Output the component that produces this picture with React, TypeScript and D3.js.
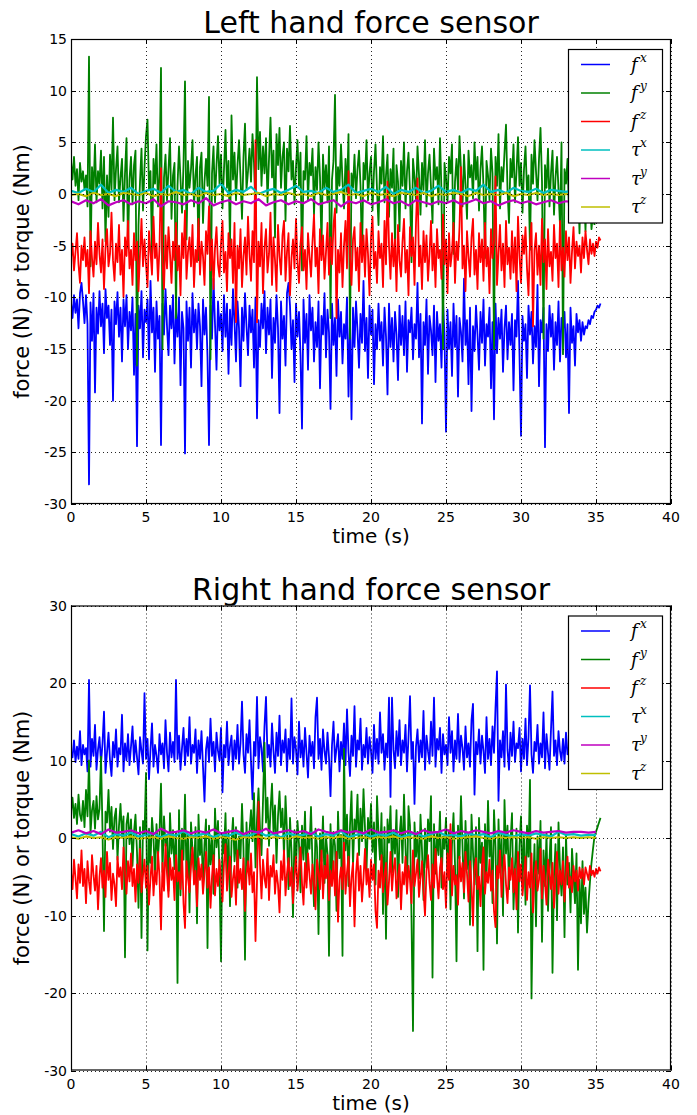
import React from 'react';
import * as d3 from 'd3';

// ---------- data ----------
const FORCE_DT = 0.1; // s between force samples
const TORQUE_DT = 0.5; // s between torque samples

const LEFT_FX = [
  -10.5,-12,-9.8,-11.5,-10.2,-13,-9.6,-8.6,-10.4,-12.5,
  -9.8,-12.6,-28.1,-10.5,-14.2,-9.6,-19.2,-11,-13.5,-9.4,
  -12.8,-10.6,-15.4,-9.2,-12,-10.8,-14.6,-11.2,-20,-10.4,
  -12.6,-9.5,-13.8,-11,-16.2,-10.2,-12.8,-9.8,-15,-11.4,
  -13.2,-10,-17.5,-11.6,-24.4,-10.8,-13,-9.4,-15.8,-11.2,
  -12.4,-10.2,-16,-8.4,-13.4,-11,-17.2,-10.4,-14,-11.8,
  -24.3,-10.6,-13.6,-9.2,-12.8,-15.6,-10.8,-13,-9.8,-16.4,
  -11.2,-13.8,-10,-18.5,-11.4,-13,-25.1,-10.4,-14.2,-11,
  -16.8,-9.6,-13.4,-11.2,-15,-10.6,-12.8,-18.6,-10.2,-13.6,
  -11,-15.8,-24.3,-10.8,-14,-8.2,-12.6,-17,-10.4,-13.2,
  -11.6,-15.2,-9.8,-13.8,-10.6,-17.4,-11.2,-14.6,-9.2,-12.4,
  -16.2,-10.4,-13,-18.6,-11,-14.2,-9.6,-12.8,-15.6,-10.8,
  -13.4,-11.2,-16.8,-10,-21.7,-12.2,-14.8,-10.6,-13,-9.4,
  -15.4,-11,-13.6,-10.2,-17.8,-12,-14.4,-9.8,-13,-21.2,
  -10.4,-14,-11.8,-16.6,-9.6,-8.6,-10.8,-15,-12.2,-18.2,
  -10.6,-13.8,-11.4,-15.6,-22.7,-10.2,-14.4,-11.6,-17,-9.8,
  -13.2,-11,-16.2,-12.4,-14.8,-10.4,-18.8,-11.8,-13.6,-9.6,
  -15.8,-11.2,-13.4,-20.8,-10.6,-14.6,-12,-17.6,-10.2,-13.8,
  -11.4,-16.4,-12.6,-14,-10,-19.6,-12.2,-21.8,-11,-14.8,
  -10.4,-13.2,-16.8,-11.6,-14.4,-8.4,-15.2,-12,-17.8,-10.8,
  -13.6,-11.2,-18.4,-12.6,-15,-10.6,-14.2,-12.4,-16.6,-11,
  -13.8,-19.4,-10.6,-14.8,-12,-16.2,-11.4,-13.6,-18,-10.8,
  -14.6,-11.8,-15.6,-10.4,-17.2,-12.2,-13.4,-11,-16,-12.6,
  -14,-8.6,-15.8,-11.6,-22.2,-12.4,-14.6,-10.2,-17.4,-11.8,
  -13.2,-15.6,-10.8,-18.2,-11.4,-14.2,-12.6,-16.8,-10.4,-13.6,
  -23,-11.2,-15,-12.4,-17.6,-10.6,-14.8,-11.8,-19.6,-12,
  -13.4,-16.2,-8.2,-14.6,-12.2,-18.4,-11,-21,-12.8,-15.2,
  -10.8,-13.6,-17,-11.4,-14.4,-10.2,-16.6,-12.6,-13.8,-11,
  -18.8,-12.4,-21.8,-10.6,-15.4,-12,-14,-11.2,-17.2,-13,
  -10.8,-16,-12.4,-14.6,-11.6,-19,-12.2,-13.8,-8.4,-15.6,
  -23.4,-11.8,-14.2,-12.6,-17.8,-10.8,-13.6,-11.4,-16.4,-12.8,
  -14.8,-8.8,-18.6,-12.2,-13.4,-11,-24.5,-12.6,-15.2,-10.8,
  -13.8,-11.6,-17,-12.4,-14.6,-10.4,-16.2,-12,-13.2,-11.4,
  -15.8,-12.6,-21.2,-11,-14.4,-12.8,-16.6,-11.6,-13.4,-12.2,
  -14.2,-12.4,-13.6,-12.8,-13,-12.2,-12.6,-11.8,-12,-11.4,
  -11.2,-10.8,-11,-10.6,
];

const LEFT_FY = [
  3.2,1.4,3.6,0.8,2.4,-0.6,3,1.2,2.2,0.4,
  1.8,-1.2,13.3,-7,2.6,0.2,4.8,-0.8,2.2,1,
  4.2,-1.4,3.6,-4.6,1.8,-2.2,3.8,0.4,7.4,-0.6,
  2.4,4.6,-0.8,1.6,3.4,-2.6,2,5.4,-5.2,1.4,
  3.6,-1,2.8,4.2,-16.6,-3,1.2,4.4,-1.6,2.6,
  5.6,7.2,0.4,2.2,-6,3.4,1,4.8,-1.2,2,
  12.2,-15,1.6,3.8,-0.6,2.4,5.4,-2.4,1.8,3,
  -12,0.8,4.6,1.4,-1.8,2.8,10.9,-4.4,3.2,0.6,
  2.4,5.2,-1.2,1.8,3.6,-6.4,2.6,4,-2.8,1.2,
  3.4,0.8,9.4,-16,2,4.6,-0.8,2.8,5.6,1,
  3.8,-1.4,2.4,6.2,0.6,3.2,-5,7.6,1.4,4,
  -0.6,2.8,5.2,1.6,-2.4,3.6,6.8,0.4,2.2,4.4,
  1.2,5.8,3,-1.6,11.3,2.4,6,0.8,4.6,2,
  5.4,-0.8,3.4,7.4,1.6,4.2,-4.2,5.8,2.8,6.4,
  0.6,3.6,5,-2.6,4.4,2.2,6.6,1.4,3.2,-1,
  2.6,5.2,0.8,4,-7.4,2.2,1.4,5.6,-0.6,3,
  1.8,4.4,-2,2.6,0.4,5,1.6,-5.2,3.8,0.6,
  2.8,-0.8,4.6,-12,1.4,3.2,9.6,-1.8,2.6,0.8,
  4.8,1.2,-1.4,3.4,0.2,5.8,-14,2,0.6,3.8,
  -0.4,2.4,4.2,0.8,-6.2,3,1.4,5.2,-0.6,2,
  3.6,-1.6,2.2,4.8,0.4,-3,2.6,1,5.6,-0.8,
  1.8,3.8,-2.2,2.4,0.6,4.4,-5,2.8,1.2,-3.6,
  3.2,0.8,5,-1.4,2.2,4,0.2,-6.6,3.4,1.6,
  -0.6,4.6,1.8,-2,3,0.4,5.2,-1.2,2,3.8,
  0.6,-2.8,4.4,1.4,2.6,-1,5.4,0.2,-15,3,
  1.6,-0.8,3.6,2,4.8,-5.8,1.2,3.4,0.4,5.6,
  2.2,-1.2,3.8,0.8,-2.4,4.2,1.6,2.8,-0.4,5,
  1.4,3.6,-1.6,2.4,4.6,0.6,-6.2,3.2,1.8,-0.6,
  4.4,2,-15,3.6,0.8,5.8,-1.4,2.6,1.2,4,
  6.7,0.4,-2.8,3.4,1.6,4.8,-0.8,2.2,5.5,0.8,
  3,-1.8,2.4,4.6,0.2,1.8,-5.4,3.8,1,5.2,
  2.2,-0.6,3.4,6.4,1.2,-14,2.8,0.6,4.4,-1.2,
  2,4.2,-2,1.6,3.6,0.4,-3,5,-15.5,2.4,
  1,3.4,-1.6,2.2,4.6,0.8,-2.6,3,1.4,-3.8,
  2.6,-1.2,0.4,-3.6,1.8,-2,-0.6,-3.4,-1.8,-3,
];

const LEFT_FZ = [
  -6.2,-4.8,-7.4,-5.6,-3.8,-6.8,-8.6,-5,-6.4,-4.2,
  -7,-5.4,-9.6,-3.6,-6.2,-8,-4.6,-6.8,-2.8,-5.8,
  -7.6,-4.4,-9.2,-5.2,-3.4,-7,-5.8,-1.8,-6.4,-8.4,
  -4.8,-6.6,-3,-7.8,-5.4,-10,-4.2,-6,-2.6,-7.2,
  -5.4,-8.8,-3.8,-6.4,-4.6,-9.4,-5.8,-2.4,-7,-4.4,
  -6.8,-9,-3.6,-5.6,-7.8,-2.2,-6.2,-4.8,-8.4,-5.2,
  2.5,-6.6,-9.2,-4,-7.2,-3.2,-5.8,-8.6,-4.6,-6.4,
  -2.8,-7.4,-5,-9.8,-3.8,-6.2,-1.6,-8.2,-5.6,-4.2,
  -7,-3,-9,-5.4,-6.6,-2.4,-7.8,-4.6,-6,-8.8,
  -3.6,-5.8,-1.2,-7.4,-4.4,-9.2,-5.2,-3.2,-6.8,-8,
  -4.8,-2.6,-7.6,-5.6,-9.4,-3.8,-6.2,-4.4,-8.6,-2.8,
  -12.4,-5,-7.2,-3.4,-9,-6,-4.2,-7.8,-2.2,-5.8,
  -8.4,-3.6,-6.6,5.2,-12.4,-4.6,-7,-2.8,-9.6,-5.2,
  -3.4,-7.6,-5.8,-1.8,-8.8,-4.2,-6.4,-9.4,-3,-6,
  -7.8,-4,-2.6,-8.4,-5.6,-3.8,-9.8,-6.2,-4.4,-7.2,
  -2.4,-6.6,-8.6,-4.8,-3.2,-7.4,-5.4,-9.2,-3.8,-6,
  -8,-4.6,-2,-7,-5.2,-9.6,-3.4,-6.4,-4,-8.2,
  -5.6,-2.8,-7.8,-4.2,-6.8,-3,-1.4,-12,-5.4,-7.6,
  -3.8,-9,-5,-2.6,-7.2,2.2,-6,-8.8,-4.4,-3.2,
  -7.4,-5.2,-9.4,-2.8,-6.6,-4,-8,-3.4,-5.8,-9.8,
  -4.2,-2.2,-7.2,-5.6,-8.6,-3.6,-6.2,-4.8,-9,-2.6,
  -6.8,1.2,-5,-8.2,-3.8,-7,-4.4,-9.4,-3,-6.4,
  -8,-4.6,-2.4,-7.6,-5.4,-9.8,-3.2,-6,-4.2,-8.8,
  -2.8,1.5,-7,-5,-9.2,-3.6,-6.6,-4,-8.4,-5.8,
  -2.6,-7.4,-4.8,-9,-3.4,-6.2,-5.4,-8.2,-2,-6.8,
  -4.4,-9.6,-3.8,-7,-5.6,-2.8,-8.6,-4.6,-6.4,-3.2,
  2.6,-7.2,-5,-9.4,-3.6,-6,-8,-4.2,-2.4,-7.8,
  -5.4,-9.2,-3.8,-6.6,-4.4,-8.4,-2.8,-7,-5.2,-9.6,
  -3.4,-6.2,-4.6,1.7,-8.8,-5.8,-3,-7.4,-4.8,-9,
  -2.6,-6.8,-5.2,-8.2,-3.6,-7.6,-4.2,-9.4,-2.2,-6,
  -8.6,-4,-5.8,-3.2,-7.2,-9.8,-4.6,-2.8,-12.8,-5.4,
  -3.8,-7.8,-5,-8.8,-2.4,-6.6,-4.4,-9.2,-3.4,-7,
  -5.6,-8.4,-3,-6.2,-4.8,-9,-2.6,-7.4,-5.2,-8,
  -3.6,-6.4,-4.2,-8.6,-5.6,-3.2,-7.2,-4.6,-6,-5,
  -7.6,-4.2,-6.2,-3.6,-5.4,-6.8,-4.4,-5.8,-4.8,-6,
  -4.6,-5.2,-4.2,-4.5,
];

const LEFT_TX = [
  0.3,0.1,0.5,0.2,0.9,0.1,0.4,0.2,0.6,0.0,
  0.3,0.5,0.1,0.8,0.2,0.4,0.0,0.6,0.2,0.3,
  1.0,0.1,0.4,0.2,0.7,0.0,0.3,0.5,0.1,0.4,
  0.8,0.2,0.3,0.1,0.6,0.2,0.4,0.9,0.1,0.3,
  0.5,0.2,0.7,0.0,0.4,0.2,0.6,0.1,0.3,0.8,
  0.2,0.4,0.1,0.5,0.3,0.9,0.2,0.4,0.1,0.6,
  0.3,0.2,0.5,0.1,0.4,0.3,0.2,0.4,0.3,0.2,0.3,
];
const LEFT_TY = [
  -0.7,-1.0,-0.6,-0.9,-0.5,-1.1,-0.8,-0.6,-1.0,-0.7,
  -0.9,-0.5,-1.2,-0.7,-0.8,-1.0,-0.6,-0.9,-0.4,-1.1,
  -0.8,-0.6,-1.0,-0.7,-0.9,-0.5,-1.1,-0.8,-0.6,-1.0,
  -0.7,-0.9,-0.5,-1.0,-0.8,-0.6,-1.2,-0.7,-0.9,-0.6,
  -1.0,-0.8,-0.5,-0.9,-0.7,-1.1,-0.6,-0.8,-1.0,-0.7,
  -0.9,-0.6,-1.0,-0.8,-0.5,-0.9,-0.7,-1.1,-0.8,-0.6,
  -0.9,-0.7,-1.0,-0.8,-0.6,-0.9,-0.7,-0.8,-0.9,-0.7,-0.8,
];
const LEFT_TZ = [
  -0.1,0.0,-0.2,0.1,-0.1,0.0,-0.2,0.1,0.0,-0.1,
  0.1,-0.2,0.0,-0.1,0.2,-0.1,0.0,-0.2,0.1,-0.1,
  0.0,-0.2,0.1,-0.1,0.0,0.1,-0.2,0.0,-0.1,0.1,
  -0.1,0.0,-0.2,0.1,-0.1,0.0,0.2,-0.1,0.0,-0.2,
  0.1,-0.1,0.0,-0.2,0.1,0.0,-0.1,0.1,-0.2,0.0,
  -0.1,0.1,0.0,-0.2,0.1,-0.1,0.0,-0.1,0.1,-0.2,
  0.0,-0.1,0.1,-0.1,0.0,-0.1,0.0,-0.1,0.0,-0.1,0.0,
];

const RIGHT_FX = [
  11.2,10.4,12.6,9.8,11.8,10.2,13.8,9.4,12,10.8,
  11.6,8.6,20.4,9.2,12.8,10.6,14.6,8.8,11.4,13,
  9.6,12.2,16.3,8.4,11,13.6,10,8,12.4,10.4,
  14,9.2,11.6,10.8,15.9,8.6,12.2,10,13.4,9.4,
  11.8,14.4,9.8,12.6,10.4,8.2,13,11.2,9.6,18.7,
  10.2,12.8,7.6,11.4,14.8,9.2,12,10.6,8.4,13.4,
  10.8,12.2,9,15.2,11,8.6,13.6,10.4,12.4,9.8,
  20.4,10.2,13.2,8.8,11.6,14.2,9.4,12.8,10.6,15.6,
  9.6,12,11,14,8.4,12.6,10.2,13.8,9.2,4.7,
  11.4,13,9.8,15.4,10.6,12.4,8.6,13.6,11.2,10,
  14.2,5.9,12,10.4,15,9.4,11.8,13.2,8.8,12.6,
  10.2,14.6,9.6,12.2,17.6,10.8,8.4,13.4,11,15.2,
  9.8,5,12.4,10.6,18.2,9,13,11.6,8.6,14.4,
  18.2,10.4,12,9.2,14.8,11.2,8.4,13.6,10.6,15.8,
  9.4,12.6,11,14,8.6,12.8,10.2,18,9.6,13,
  11.4,8.2,15,10.4,12.6,9.2,14.2,11,7.8,13.2,
  10.6,12.4,9,15.6,18.1,10.2,12.8,8.8,14,11.2,
  9.6,13.6,10.4,5.4,12,15,9.8,11.6,13.4,8.6,
  12.4,10.2,14.8,9.4,16.6,11,8,13.2,10.6,17,
  9.2,12.6,11.4,15.4,8.8,12,10.4,14.2,9.6,13,
  11.2,8.4,14.6,10.2,12.8,9.6,16.2,11,13.4,8.8,
  12.2,10.4,18.1,5.3,18.1,11.4,9,13.8,10.6,15.2,
  9.4,12.6,11,14.6,8.6,13,18.3,10.2,12.4,4.4,
  11.8,14,9.8,12.6,10.4,16.4,8.8,13.2,11.2,9.6,
  15,10.6,18.1,9.2,12.8,11.4,14.2,8.4,13.4,10.8,
  12,9.4,15.6,11,13.8,8.6,12.6,10.2,16,9.8,
  13.2,11.6,8.8,14.4,10.4,12.2,9.2,15.2,17.3,5.6,
  12.4,10.8,14,9.6,13.2,11.2,8.4,15.6,10.2,12.8,
  9.4,14.4,11,16.8,21.5,4.8,12.6,10.4,13.8,9.2,
  19.8,11.4,8.8,13.6,10.6,15,9.8,12.2,11.6,14.2,
  8.6,12.8,10.2,15.4,9.4,13,19.7,10.8,8.4,12.4,
  11.2,14.6,9.6,12.2,10.4,16.2,9,13.4,11,8.8,
  14,18.9,10.6,12.6,9.4,13.8,11.2,10,12.8,9.6,
  13.6,10.8,11.8,9.8,12.4,10.4,11.6,9.2,12.2,10.6,
  11.4,9.8,12,10.6,11,10.2,11.6,10.8,10.4,11.2,
  10.6,11,10.4,10.8,
];

const RIGHT_FY = [
  3.4,5.2,2.6,4.4,1.8,5.6,3,2.2,4.8,1.4,
  6.2,2.8,10,0.6,3.6,4.8,1.2,5.4,2.4,3.8,
  10.5,1,-12,3.4,2,6.2,0.8,4,-1.4,2.6,
  3.8,-2.8,1.6,4.4,0.2,2.8,-15.4,1.8,3.2,-0.8,
  2.4,-3.6,0.8,3,-1.8,-9,1.4,-12.9,2.2,0.4,
  8.4,-14.5,1.2,-3.2,2.6,0,-5.2,1.8,-2.4,0.6,
  7,-4.4,2.8,-1,0.2,-6.8,3.2,-2,1,-4,
  0.8,-18.7,3.6,-7.4,1.2,-2.8,5.6,-5,0.4,-9.6,
  2,-1.6,-4.8,1.4,-11,3,-2.2,0.2,-6,-0.8,
  2.4,-14.2,1.6,-3.4,0,-7.2,3.8,-1.2,2.2,-4.6,
  -15.9,0.4,-2,3.2,-5.6,1,-8.8,-0.6,2.6,-3,
  1.4,-6.4,0.2,-2.6,4.4,-1.4,-15.7,2,-4.2,0.8,
  3.6,-0.4,5.8,-3.8,2.4,6.4,1.2,-2.2,4.8,12.3,
  2,5.2,-1,3.6,7,0.6,4.2,-3.2,2.8,6,
  1.4,3.8,-2.4,5.4,0.8,-6.6,2.6,-1.8,-10.2,1,
  -4,2.2,-0.8,-7,1.6,-2.8,3.4,-5.4,0.4,-1.4,
  4,-3.6,-8.8,1.2,-1.2,-12.4,0.6,-3,2.8,-5.8,
  0.2,-2,-15.2,1.8,-4.6,0.8,-1,-9.4,3.4,-2.6,
  0.4,-15.2,11.5,-1.6,3,-6.2,1.6,6,-3.6,2.4,
  0.8,5.6,-2.2,3.8,-0.4,6.3,1.2,-4.2,2.6,0,
  4.4,-1.8,2,-6,5.4,0.6,-2.8,3.2,-9.8,1.4,
  -13,2.4,-0.6,4.1,-4.4,1,-2,3.6,-7.6,0.2,
  2.8,-3.2,5.6,-1.2,-6.8,4.1,1.6,-10.4,-24.9,2,
  -2.4,0.8,-5.2,3,-1.6,-8,1.2,-3.8,2.4,-0.4,
  5.4,-18,1.8,-4.6,0.6,-2.2,3.4,-6.4,0.2,-1.4,
  2.6,-5,1,-9.2,-0.8,3.2,-3.4,-15.9,1.6,-2.6,
  5.4,-1,-7.8,2.2,-4,0.4,-11.2,3,-1.8,-6,
  1.4,-14.6,2.6,-3.2,-0.6,-17,1.8,-5.6,4.8,-2.4,
  0.2,-8.4,3.6,-1.2,-13.6,2.4,-4.4,0.6,-10,4.9,
  -2,1.6,-6.6,-0.4,3.2,-9.2,-3.6,1.2,-12.2,-1,
  2.8,-5.8,0.4,-8.6,1.6,-2.4,7.5,-20.7,-7,-0.8,
  -11.4,0.2,-4.6,2.2,-13.4,-1.6,-6.2,0.6,-9.4,-2.8,
  1.4,-17.4,-5,-0.8,-10.6,2,-3.8,-7.4,-1.2,-12.8,
  0.4,-6,-3.2,-9.6,-1.4,-4.8,-8.4,-2,-17,-5.4,
  -11,-3,-9.8,-6.4,-12.2,-8.4,-5.6,-3.2,-1.4,0.2,
  0.8,1.4,2,2.6,
];

const RIGHT_FZ = [
  -4.4,-6.6,-2.8,-5.2,-7.8,-3.4,-5.8,-1.6,-6.2,-4,
  -8.4,-3,-5.6,-7.2,-2.2,-4.8,-6.8,-3.6,-9.2,-5,
  -2.6,-6.4,-4.2,-7.6,-1.8,-5.4,-3.2,-8,-4.6,-6,
  -8.8,-2.4,-5,-3.8,-6.6,-1.2,-4.4,-7.2,-3,-5.6,
  -2,-6.2,-4,-8.2,-3.4,-5.8,-1.4,-7,-4.8,-2.8,
  -6.4,-3.6,-8.6,-5.2,-2.4,-7.4,-4.2,-6,-1.8,-5,
  -11.8,-3.2,-6.8,-0.8,-4.6,-7.6,-2.6,-5.4,-3.8,-8,
  -2.2,-5.6,-4.4,-6.6,-1.6,-8.4,-11.6,-3,-5.2,-7,
  -3.6,-1.2,-6,-4.2,-8.8,-2.6,-5.4,-3.4,-7.2,-4.6,
  -1.8,-6.4,-3.8,-9,-5,-2.2,-7.4,-4,-6.2,-2.8,
  -5.6,-8.2,-3.2,-0.8,-6.8,-4.4,-2.4,-7.6,-5.2,-3.6,
  -8.6,-1.6,-5.8,-4,-6.6,-2.6,-9.4,-4.8,-3,-6,
  -2,-7,-4.4,-13.3,-5.6,4.7,-3.4,-7.8,-2.8,-5.2,
  -6.4,-1.4,-8,-3.6,-5,-2.2,-7.2,-4.2,-6,-9.6,
  -3,-5.4,-1.6,-7.4,-4.6,-2.6,-6.2,-3.8,-8.4,-5,
  -2.4,-6.8,-4,-1.2,-5.8,-8.6,-3.2,-6.4,-2,-4.8,
  -7.2,-3.4,-5.6,-9.2,-2.8,-4.4,-6.6,-1.6,-7.8,-3.6,
  -5.2,-2.2,-8,-4.2,-6.2,-3,-7.4,-1.8,-10.8,-5.4,
  -3.8,-6.6,-0.6,-7.2,-4.4,-2.4,-8.8,-5,-3.2,-11.4,
  -4.6,-2,-6.8,-3.6,-8.2,-5.2,-1.4,-6,-4,-7.6,
  -2.8,-5.4,-3.4,-9.4,-11.6,-4.2,-6.4,-2.2,-7,-4.8,
  -3.2,-8.6,-5.6,-1.8,-6.8,-4,-2.6,-7.8,-5,-3.4,
  -9.2,-4.4,-6,-2.4,-7.2,-3.6,-5.4,-8.4,-1.6,-6.2,
  -4.6,-2.8,-7.6,-5.2,-3,-6.8,-10,-4.2,-2.2,-5.8,
  -8,-3.4,-6.4,-1.4,-5,-7.8,-3.8,-2.6,-6.6,-4.4,
  -9,-2,-5.4,1.8,-7.4,-3.6,-6,-4.8,-8.6,-2.4,
  -5.6,-3.2,-7,-1.8,-4.6,-8.2,-3,-6.2,-11.3,-4,
  -2.6,-6.6,-5,-8.8,-3.4,-1.2,-7.2,-4.4,-5.8,-2.8,
  -6.8,-4.2,-9.4,-11.5,-3.6,-5.2,-1.6,-7.6,-4.6,-2.2,
  -6,-8.4,-3.8,-5.4,-2.6,-7,-4,-9.2,-1.8,-5.6,
  -3.4,-7.4,-5,-2.4,-8,-4.4,-6.4,-2,-9.6,-4.8,
  -3,-6.8,-5.4,-1.4,-7.8,-3.6,-5.8,-8.6,-2.8,-4.6,
  -6.6,-3.2,-9,-5.2,-1.8,-7.2,-4.2,-6,-3,-8.2,
  -4.8,-2.4,-6.4,-5,-7,-3.6,-5.6,-4.2,-6.8,-3.8,
  -5.2,-4,-6,-3.8,-4.6,-5.4,-3.6,-4.8,-4.2,-5,
  -4,-4.6,-3.8,-4.3,
];

const RIGHT_TX = [
  0.5,0.2,0.6,0.3,0.8,0.1,0.5,0.3,0.7,0.2,
  0.4,0.6,0.1,0.5,0.3,0.9,0.2,0.4,0.6,0.1,
  0.5,0.3,0.7,0.2,0.4,0.8,0.3,0.5,0.1,0.6,
  0.3,0.4,0.7,0.2,0.5,0.3,0.9,0.1,0.4,0.6,
  0.2,0.5,0.3,0.7,0.1,0.4,0.6,0.2,0.5,0.8,
  0.3,0.4,0.2,0.6,0.3,0.5,0.1,0.7,0.4,0.2,
  0.5,0.3,0.6,0.4,0.2,0.8,0.4,0.5,0.3,0.4,0.4,
];
const RIGHT_TY = [
  0.7,1.0,0.6,0.9,0.5,1.1,0.7,0.8,1.0,0.6,
  0.9,0.5,1.2,0.7,0.8,1.0,0.6,0.9,0.7,1.1,
  0.6,0.8,1.0,0.5,0.9,0.7,1.2,0.6,0.8,1.0,
  0.7,0.9,0.5,1.1,0.8,0.6,1.0,0.7,0.9,0.6,
  1.1,0.7,0.8,1.0,0.6,0.9,0.5,1.0,0.7,0.8,
  1.1,0.6,0.9,0.7,1.0,0.8,0.6,0.9,0.7,1.0,
  0.8,0.6,0.9,0.7,0.8,0.9,0.7,0.8,0.8,0.7,0.8,
];
const RIGHT_TZ = [
  0.1,-0.1,0.2,0.0,0.1,-0.2,0.1,0.0,0.2,-0.1,
  0.0,0.1,-0.1,0.2,0.0,-0.1,0.1,0.0,0.2,-0.1,
  0.1,0.0,-0.2,0.1,0.0,0.2,-0.1,0.1,0.0,-0.1,
  0.2,0.0,0.1,-0.1,0.1,0.0,0.2,-0.1,0.0,0.1,
  -0.1,0.1,0.0,0.2,-0.1,0.1,0.0,-0.1,0.2,0.0,
  0.1,-0.1,0.0,0.1,0.2,0.0,-0.1,0.1,0.0,0.1,
  0.0,0.1,-0.1,0.1,0.0,0.1,0.0,0.1,0.0,0.1,0.0,
];

const SERIES_COLORS = ['#0000ff', '#008000', '#ff0000', '#00bfbf', '#bf00bf', '#bfbf00'];
const LEGEND_BASE = ['f', 'f', 'f', 'τ', 'τ', 'τ'];
const LEGEND_SUP = ['x', 'y', 'z', 'x', 'y', 'z'];
const X_TICKS = [0, 5, 10, 15, 20, 25, 30, 35, 40];
const LEFT_Y_TICKS = [-30, -25, -20, -15, -10, -5, 0, 5, 10, 15];
const RIGHT_Y_TICKS = [-30, -20, -10, 0, 10, 20, 30];
const TITLES = ['Left hand force sensor', 'Right hand force sensor'];
const X_LABEL = 'time (s)';
const Y_LABEL = 'force (N) or torque (Nm)';

// ---------- layout ----------
const W = 697;
const H = 1115;
const AX_LEFT = 71;
const AX_RIGHT = 671;
const AX_H = 465;
const FONT = 'DejaVu Sans, sans-serif';

type PanelProps = {
  top: number;
  title: string;
  yDomain: [number, number];
  yTicks: number[];
  series: { values: number[]; dt: number }[];
  id: string;
};

function Panel({ top, title, yDomain, yTicks, series, id }: PanelProps) {
  const bottom = top + AX_H;
  const x = d3.scaleLinear().domain([0, 40]).range([AX_LEFT, AX_RIGHT]);
  const y = d3.scaleLinear().domain(yDomain).range([bottom, top]);
  const line = (vals: number[], dt: number) =>
    d3
      .line<number>()
      .x((_, i) => x(i * dt))
      .y((v) => y(v))(vals) || '';
  const tick = 5;
  const midX = (AX_LEFT + AX_RIGHT) / 2;
  const midY = (top + bottom) / 2;

  // legend geometry
  const lgL = 568.5;
  const lgR = 662.5;
  const lgT = top + 10.5;
  const rowH = 28.5;
  const lgB = lgT + 15 + rowH * 5 + 16;

  return (
    <g>
      <text x={midX} y={top - 6} textAnchor="middle" fontFamily={FONT} fontSize={30} fill="#000">
        {title}
      </text>
      <defs>
        <clipPath id={id}>
          <rect x={AX_LEFT} y={top} width={AX_RIGHT - AX_LEFT} height={AX_H} />
        </clipPath>
      </defs>
      <rect x={AX_LEFT} y={top} width={AX_RIGHT - AX_LEFT} height={AX_H} fill="#fff" />
      <g clipPath={`url(#${id})`}>
        {series.map((s, k) => (
          <path
            key={k}
            d={line(s.values, s.dt)}
            fill="none"
            stroke={SERIES_COLORS[k]}
            strokeWidth={k < 3 ? 1.8 : 2.2}
            strokeLinejoin="round"
          />
        ))}
      </g>
      {/* grid */}
      <g stroke="#000" strokeWidth={1} strokeDasharray="1,3" opacity={0.85}>
        {X_TICKS.map((t) => (
          <line key={'gx' + t} x1={Math.round(x(t)) + 0.5} x2={Math.round(x(t)) + 0.5} y1={top} y2={bottom} />
        ))}
        {yTicks.map((t) => (
          <line key={'gy' + t} x1={AX_LEFT} x2={AX_RIGHT} y1={Math.round(y(t)) + 0.5} y2={Math.round(y(t)) + 0.5} />
        ))}
      </g>
      {/* frame */}
      <rect
        x={AX_LEFT + 0.5}
        y={top + 0.5}
        width={AX_RIGHT - AX_LEFT - 1}
        height={AX_H - 1}
        fill="none"
        stroke="#000"
        strokeWidth={1.2}
      />
      {/* ticks */}
      <g stroke="#000" strokeWidth={1}>
        {X_TICKS.map((t) => {
          const px = Math.round(x(t)) + 0.5;
          return (
            <g key={'tx' + t}>
              <line x1={px} x2={px} y1={bottom} y2={bottom - tick} />
              <line x1={px} x2={px} y1={top} y2={top + tick} />
            </g>
          );
        })}
        {yTicks.map((t) => {
          const py = Math.round(y(t)) + 0.5;
          return (
            <g key={'ty' + t}>
              <line x1={AX_LEFT} x2={AX_LEFT + tick} y1={py} y2={py} />
              <line x1={AX_RIGHT} x2={AX_RIGHT - tick} y1={py} y2={py} />
            </g>
          );
        })}
      </g>
      {/* tick labels */}
      <g fontFamily={FONT} fontSize={14} fill="#000">
        {X_TICKS.map((t) => (
          <text key={'lx' + t} x={x(t)} y={bottom + 18} textAnchor="middle">
            {t}
          </text>
        ))}
        {yTicks.map((t) => (
          <text key={'ly' + t} x={AX_LEFT - 4} y={y(t) + 5} textAnchor="end">
            {t}
          </text>
        ))}
      </g>
      <text x={midX} y={bottom + 39} textAnchor="middle" fontFamily={FONT} fontSize={20} fill="#000">
        {X_LABEL}
      </text>
      <text
        transform={`translate(29,${midY}) rotate(-90)`}
        textAnchor="middle"
        fontFamily={FONT}
        fontSize={21}
        fill="#000"
      >
        {Y_LABEL}
      </text>
      {/* legend */}
      <rect x={lgL} y={lgT} width={lgR - lgL} height={lgB - lgT} fill="#fff" stroke="#000" strokeWidth={1.2} />
      {SERIES_COLORS.map((c, k) => {
        const ry = lgT + 15 + k * rowH;
        return (
          <g key={'lg' + k}>
            <line x1={581} x2={610} y1={ry} y2={ry} stroke={c} strokeWidth={1.5} />
            <text
              x={631}
              y={ry + 6}
              fontFamily="DejaVu Serif, serif"
              fontStyle="italic"
              fontSize={18}
              fill="#000"
            >
              {LEGEND_BASE[k]}
            </text>
            <text
              x={640}
              y={ry - 3}
              fontFamily="DejaVu Serif, serif"
              fontStyle="italic"
              fontSize={12}
              fill="#000"
            >
              {LEGEND_SUP[k]}
            </text>
          </g>
        );
      })}
    </g>
  );
}

export default function App() {
  const leftSeries = [
    { values: LEFT_FX, dt: FORCE_DT },
    { values: LEFT_FY, dt: FORCE_DT },
    { values: LEFT_FZ, dt: FORCE_DT },
    { values: LEFT_TX, dt: TORQUE_DT },
    { values: LEFT_TY, dt: TORQUE_DT },
    { values: LEFT_TZ, dt: TORQUE_DT },
  ];
  const rightSeries = [
    { values: RIGHT_FX, dt: FORCE_DT },
    { values: RIGHT_FY, dt: FORCE_DT },
    { values: RIGHT_FZ, dt: FORCE_DT },
    { values: RIGHT_TX, dt: TORQUE_DT },
    { values: RIGHT_TY, dt: TORQUE_DT },
    { values: RIGHT_TZ, dt: TORQUE_DT },
  ];
  return (
    <svg
      width={W}
      height={H}
      viewBox={`0 0 ${W} ${H}`}
      style={{ position: 'absolute', left: 0, top: 0, background: '#fff' }}
    >
      <rect x={0} y={0} width={W} height={H} fill="#fff" />
      <Panel top={39} title={TITLES[0]} yDomain={[-30, 15]} yTicks={LEFT_Y_TICKS} series={leftSeries} id="clipL" />
      <Panel top={605.5} title={TITLES[1]} yDomain={[-30, 30]} yTicks={RIGHT_Y_TICKS} series={rightSeries} id="clipR" />
    </svg>
  );
}
